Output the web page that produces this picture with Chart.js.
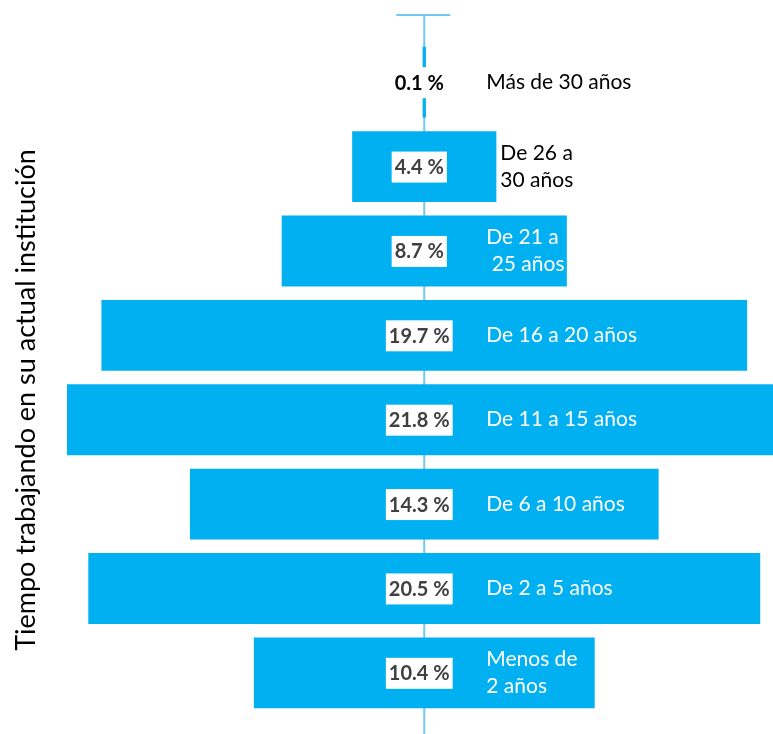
<!DOCTYPE html>
<html>
<head>
<meta charset="utf-8">
<script src="https://cdn.jsdelivr.net/npm/chart.js@4"></script>
<style>
html, body { margin: 0; padding: 0; background: #fff; }
</style>
</head>
<body>
<canvas id="chart" width="773" height="734"></canvas>
<script>
// Tiempo trabajando en su actual institución (funnel)

var categories = [
    ['Más de 30 años'],
    ['De 26 a', '30 años'],
    ['De 21 a', ' 25 años'],
    ['De 16 a 20 años'],
    ['De 11 a 15 años'],
    ['De 6 a 10 años'],
    ['De 2 a 5 años'],
    ['Menos de', '2 años']
];
var values = [0.1, 4.4, 8.7, 19.7, 21.8, 14.3, 20.5, 10.4];
var axisTitle = 'Tiempo trabajando en su actual institución';

var FONT = 'Lato';
var BAR_COLOR = '#00B0F0';
var LINE_COLOR = '#74C7EE';

var funnelDecor = {
    id: 'funnelDecor',
    beforeDatasetsDraw: function (chart) {
        var ctx = chart.ctx;
        var x0 = chart.scales.x.getPixelForValue(0);
        ctx.save();
        ctx.strokeStyle = LINE_COLOR;
        ctx.lineWidth = 2;
        ctx.beginPath();
        ctx.moveTo(x0, 15);
        ctx.lineTo(x0, 734);
        ctx.moveTo(x0 - 28, 15);
        ctx.lineTo(x0 + 26, 15);
        ctx.stroke();
        ctx.restore();
    },
    afterDatasetsDraw: function (chart) {
        var ctx = chart.ctx;
        var x0 = chart.scales.x.getPixelForValue(0);
        var bars = chart.getDatasetMeta(0).data;
        ctx.save();
        ctx.textBaseline = 'middle';
        bars.forEach(function (bar, i) {
            var right = Math.max(bar.x, bar.base);
            // value label on a white box
            var txt = values[i].toFixed(1) + ' %';
            ctx.font = 'bold 20px ' + FONT;
            var w = ctx.measureText(txt).width;
            var cx = x0 - 5;
            ctx.fillStyle = '#fff';
            ctx.fillRect(cx - w / 2 - 3, bar.y - 15, w + 6, 31);
            ctx.fillStyle = values[i] < 1 ? '#000' : '#404040';
            ctx.textAlign = 'center';
            ctx.fillText(txt, cx, bar.y + 1);

            // category label: white inside the bar, black when the bar is too short
            var lines = categories[i];
            var lx = x0 + 62;
            if (right < lx + 30) lx = Math.max(lx, right + 4);
            ctx.font = '21px ' + FONT;
            ctx.textAlign = 'left';
            ctx.fillStyle = lx >= right ? '#000' : '#fff';
            var step = 27;
            var y = bar.y - (lines.length - 1) * step / 2;
            lines.forEach(function (l, k) {
                ctx.fillText(l, lx, y + k * step);
            });
        });

        // axis title
        ctx.translate(26, 400);
        ctx.rotate(-Math.PI / 2);
        ctx.font = '27px ' + FONT;
        ctx.fillStyle = '#000';
        ctx.textAlign = 'center';
        ctx.fillText(axisTitle, 0, 0);
        ctx.restore();
    }
};

var ctx = document.getElementById('chart').getContext('2d');
var funnelChart = new Chart(ctx, {
    type: 'bar',
    data: {
        labels: categories.map(function (c) { return c.join(' '); }),
        datasets: [{
            data: values.map(function (v) { return [-v / 2, v / 2]; }),
            backgroundColor: BAR_COLOR,
            barPercentage: 0.84,
            categoryPercentage: 1,
            borderWidth: 0
        }]
    },
    options: {
        responsive: false,
        devicePixelRatio: 1,
        animation: false,
        indexAxis: 'y',
        layout: { padding: { top: 40, bottom: 19, left: 0, right: 0 } },
        scales: {
            x: { display: false, min: -10.9, max: 10.64 },
            y: {
                ticks: { display: false },
                grid: { display: false },
                border: { display: false },
                afterFit: function (s) { s.width = 67; }
            }
        },
        plugins: {
            legend: { display: false },
            tooltip: { enabled: false }
        }
    },
    plugins: [funnelDecor]
});
</script>
</body>
</html>
